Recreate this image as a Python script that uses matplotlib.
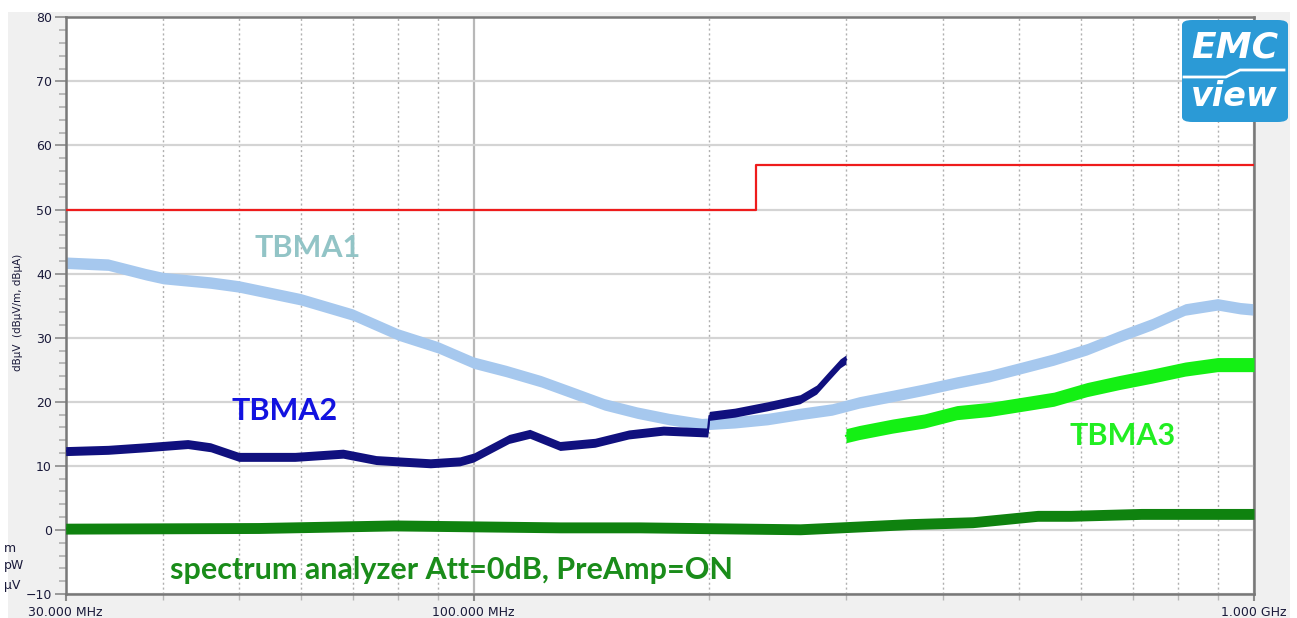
import numpy as np
import matplotlib
matplotlib.use("Agg")
import matplotlib.pyplot as plt
from matplotlib.patches import FancyBboxPatch, Rectangle
from matplotlib.ticker import FixedLocator, NullFormatter

# 読み取った値 (周波数 MHz, レベル dBuV)
limit_f = [30, 230, 230, 1000]
limit_v = [50, 50, 57, 57]

tbma1_f = [30, 34, 38, 40, 46, 50, 60, 70, 80, 90, 100, 110, 122, 134, 147, 162, 178,
           196, 216, 238, 262, 288, 312, 344, 378, 416, 458, 504, 554, 611, 672, 740,
           816, 898, 960, 1000]
tbma1_v = [41.7, 41.4, 39.9, 39.3, 38.6, 38.0, 36.0, 33.6, 30.5, 28.5, 26.1, 24.8, 23.2,
           21.4, 19.6, 18.3, 17.3, 16.5, 16.8, 17.3, 18.1, 18.8, 19.9, 20.9, 21.9, 23.0,
           24.0, 25.3, 26.6, 28.2, 30.2, 32.1, 34.4, 35.2, 34.6, 34.4]
tbma1_w = 0.9

tbma2_f = [30, 34, 38, 43, 46, 50, 59, 68, 75, 88, 96, 100, 111, 118, 129, 143, 158,
           175, 199.5, 200.5, 216, 238, 262, 275, 285, 295, 300]
tbma2_v = [12.3, 12.5, 12.9, 13.4, 12.9, 11.4, 11.4, 11.9, 10.9, 10.4, 10.7, 11.3, 14.2,
           15.0, 13.1, 13.6, 14.9, 15.5, 15.2, 17.8, 18.3, 19.3, 20.4, 21.9, 24.0, 26.0, 26.6]
tbma2_w = 0.7

tbma3_f = [300, 312, 344, 378, 416, 458, 504, 554, 611, 672, 740, 816, 898, 951, 1000]
tbma3_v = [14.7, 15.2, 16.2, 17.0, 18.3, 18.8, 19.6, 20.4, 21.9, 23.0, 24.0, 25.1, 25.8,
           25.8, 25.8]
tbma3_w = 1.1

floor_f = [30, 53, 79, 129, 163, 262, 361, 436, 480, 528, 582, 717, 1000]
floor_v = [0.2, 0.3, 0.7, 0.4, 0.4, 0.1, 0.9, 1.2, 1.7, 2.2, 2.2, 2.5, 2.5]
floor_w = 0.85

y_ticks = list(range(-10, 81, 10))
x_major = [30, 100, 1000]
x_major_labels = ["30.000 MHz", "100.000 MHz", "1.000 GHz"]
x_minor = [40, 50, 60, 70, 80, 90, 200, 300, 400, 500, 600, 700, 800, 900]

W, H = 1297, 618
fig = plt.figure(figsize=(W / 100, H / 100), dpi=100, facecolor="white")
fig.patches.append(Rectangle((8 / W, 0), 1 - 15 / W, 1 - 12 / H, transform=fig.transFigure,
                             facecolor="#f0f0f0", edgecolor="none", zorder=-10))

ax = fig.add_axes([65.7 / W, 1 - 594 / H, (1254 - 65.7) / W, (594 - 17.3) / H])
ax.set_facecolor("white")
ax.set_xscale("log")
ax.set_xlim(30, 1000)
ax.set_ylim(-10, 80)

# グリッド
ax.xaxis.set_major_locator(FixedLocator(x_major))
ax.xaxis.set_minor_locator(FixedLocator(x_minor))
ax.xaxis.set_minor_formatter(NullFormatter())
ax.set_xticklabels(x_major_labels)
ax.set_yticks(y_ticks)
ax.yaxis.set_minor_locator(FixedLocator(list(range(-10, 81, 2))))
ax.grid(True, which="major", axis="y", color="#d4d4d4", lw=1.6, zorder=0)
ax.grid(True, which="major", axis="x", color="#b8b8b8", lw=1.6, zorder=0)
ax.grid(True, which="minor", axis="x", color="#b0b0b0", lw=1.0, ls=(0, (1.5, 2)), zorder=0)
ax.set_axisbelow(True)

ax.tick_params(axis="both", which="major", labelsize=9, labelcolor="#1a1a3a", color="#8a8a8a")
ax.tick_params(axis="y", which="major", length=8, width=1.2, pad=2)
ax.tick_params(axis="y", which="minor", length=5, width=1.2, color="#b0b0b0")
ax.tick_params(axis="x", which="major", length=5, width=1.5, pad=4)
ax.tick_params(axis="x", which="minor", length=4, width=1, color="#b8b8b8")
for s in ax.spines.values():
    s.set_color("#787878")
    s.set_linewidth(1.8)

# トレース
ax.fill_between(tbma1_f, np.array(tbma1_v) - tbma1_w, np.array(tbma1_v) + tbma1_w,
                color="#a6c8ee", lw=0, zorder=2)
ax.plot(tbma1_f, tbma1_v, color="#a6c8ee", lw=1.5, zorder=2)

ax.fill_between(tbma2_f, np.array(tbma2_v) - tbma2_w, np.array(tbma2_v) + tbma2_w,
                color="#10107e", lw=0, zorder=3)
ax.plot(tbma2_f, tbma2_v, color="#10107e", lw=1.5, zorder=3)

ax.fill_between(tbma3_f, np.array(tbma3_v) - tbma3_w, np.array(tbma3_v) + tbma3_w,
                color="#14f014", lw=0, zorder=3)
ax.plot(tbma3_f, tbma3_v, color="#14f014", lw=1.5, zorder=3)

ax.fill_between(floor_f, np.array(floor_v) - floor_w, np.array(floor_v) + floor_w,
                color="#0f820f", lw=0, zorder=4)
ax.plot(floor_f, floor_v, color="#0f820f", lw=1.5, zorder=4)

ax.plot(limit_f, limit_v, color="#ee1c1c", lw=1.6, zorder=5)

# ラベル
lab = dict(fontsize=22, fontweight="bold", family=["Lato", "DejaVu Sans"], va="center")
ax.text(52.4, 44.0, "TBMA1", color="#92c4c6", ha="left", **lab)
ax.text(49.0, 18.5, "TBMA2", color="#1212e0", ha="left", **lab)
ax.text(581, 14.6, "TBMA3", color="#22ee22", ha="left", **lab)
ax.text(40.8, -6.2, "spectrum analyzer Att=0dB, PreAmp=ON", color="#1a8c1a", ha="left", **lab)

fig.text(18 / W, 1 - 312 / H, "dBµV  (dBµV/m, dBµA)", rotation=90, fontsize=7.5,
         color="#1a1a3a", ha="center", va="center")
for py, s in [(548, "m"), (566, "pW"), (585, "µV")]:
    fig.text(4 / W, 1 - py / H, s, fontsize=9, color="#1a1a3a", ha="left", va="center")

# ロゴ
fig.patches.append(FancyBboxPatch((1182 / W, 1 - 122 / H), 106 / W, 102 / H,
                                  boxstyle="round,pad=0,rounding_size=0.008",
                                  transform=fig.transFigure, facecolor="#2b9ad6",
                                  edgecolor="none", zorder=10))
fig.text(1235 / W, 1 - 48 / H, "EMC", color="white", fontsize=26, fontweight="bold",
         style="italic", ha="center", va="center", zorder=11)
fig.text(1234 / W, 1 - 97 / H, "view", color="white", fontsize=24, fontweight="bold",
         style="italic", ha="center", va="center", zorder=11)
fig.lines.append(plt.Line2D([1184 / W, 1226 / W, 1240 / W, 1284 / W],
                            [1 - 77 / H, 1 - 77 / H, 1 - 70 / H, 1 - 70 / H],
                            transform=fig.transFigure, color="white", lw=2, zorder=11))

fig.savefig("out.png", dpi=100, facecolor=fig.get_facecolor())
